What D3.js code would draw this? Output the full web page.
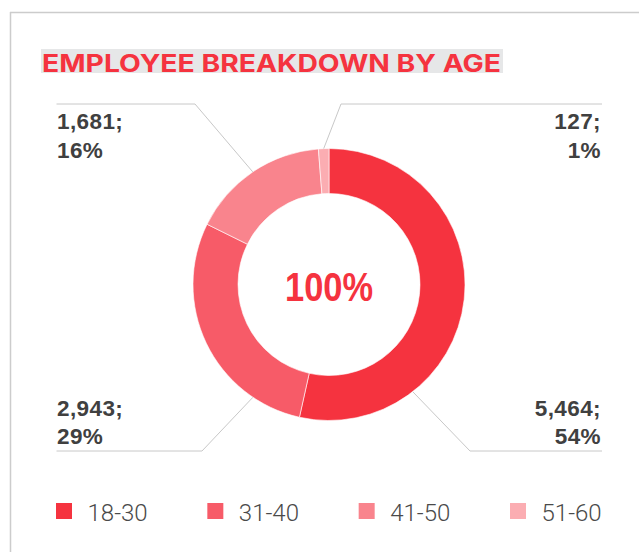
<!DOCTYPE html>
<html>
<head>
<meta charset="utf-8">
<script src="https://cdn.jsdelivr.net/npm/d3@7"></script>
<style>
  html, body { margin: 0; padding: 0; background: #fff; }
  svg { display: block; }
</style>
</head>
<body>
<svg id="chart"></svg>
<script>
const width = 639, height = 552;
const red = "#F5333F", text_color = "#404040", legend_text = "#4A4A4A", line_color = "#C8C8C8";

// data
const ageGroups = ["18-30", "31-40", "41-50", "51-60"];
const employees = [5464, 2943, 1681, 127];
const shares = ["54%", "29%", "16%", "1%"];
const sliceColors = ["#F5333F", "#F75B68", "#F9848D", "#FBADB2"];
const totalLabel = "100%";
const title = "EMPLOYEE BREAKDOWN BY AGE";

const svg = d3.select("#chart").attr("width", width).attr("height", height);

// frame
svg.append("line").attr("x1", 10).attr("x2", width).attr("y1", 12.5).attr("y2", 12.5)
  .attr("stroke", "#CCCCCC").attr("stroke-width", 1.5);
svg.append("line").attr("x1", 10.5).attr("x2", 10.5).attr("y1", 12).attr("y2", height)
  .attr("stroke", "#CCCCCC").attr("stroke-width", 1.5);

////////////////////////////////////
//             Title              //
////////////////////////////////////
svg.append("rect")
  .attr("x", 41).attr("y", 49).attr("width", 462).attr("height", 24)
  .attr("fill", "#E6E7E8");
svg.append("text")
  .attr("x", 42).attr("y", 72)
  .attr("font-family", "Inter, 'DejaVu Sans', sans-serif")
  .attr("font-weight", 700)
  .attr("font-size", 24)
  .attr("fill", red)
  .attr("textLength", 459)
  .attr("lengthAdjust", "spacingAndGlyphs")
  .text(title);

////////////////////////////////////
//             Donut              //
////////////////////////////////////
const cx = 329, cy = 284.5, outerR = 136, innerR = 91;
const g = svg.append("g").attr("transform", `translate(${cx},${cy})`);

const pie = d3.pie().sort(null).value(d => d)(employees);
const arc = d3.arc().innerRadius(innerR).outerRadius(outerR);

g.selectAll("path.slice")
  .data(pie)
  .enter()
  .append("path")
  .attr("class", "slice")
  .attr("d", arc)
  .attr("fill", (d, i) => sliceColors[i])
  .attr("stroke", "#fff")
  .attr("stroke-width", 0.6);

g.append("text")
  .attr("x", 0).attr("y", 16.5)
  .attr("text-anchor", "middle")
  .attr("font-family", "'Liberation Sans', Arial, sans-serif")
  .attr("font-weight", "bold")
  .attr("font-size", 40)
  .attr("fill", red)
  .attr("textLength", 88)
  .attr("lengthAdjust", "spacingAndGlyphs")
  .text(totalLabel);

////////////////////////////////////
//         Leader labels          //
////////////////////////////////////
// corner placement per slice: side, row, angle where the leader touches the ring, elbow x
const labelLayout = [
  { side: "right", row: "bottom", angle: 142, elbow: 470 },
  { side: "left", row: "bottom", angle: 214, elbow: 202 },
  { side: "left", row: "top", angle: null, elbow: 195 },
  { side: "right", row: "top", angle: null, elbow: 341 }
];
const rowLineY = { top: 104, bottom: 451 };
const rowBaseline = { top: [129, 158], bottom: [416, 444] };
const leftX = 56.5, rightX = 602;

pie.forEach((d, i) => {
  const lay = labelLayout[i];
  const a = lay.angle !== null ? lay.angle * Math.PI / 180 : (d.startAngle + d.endAngle) / 2;
  const ax = cx + outerR * Math.sin(a), ay = cy - outerR * Math.cos(a);
  const ly = rowLineY[lay.row];
  const endX = lay.side === "left" ? leftX : rightX;

  svg.append("polyline")
    .attr("points", `${ax},${ay} ${lay.elbow},${ly} ${endX},${ly}`)
    .attr("fill", "none")
    .attr("stroke", line_color)
    .attr("stroke-width", 1);

  const tx = lay.side === "left" ? 57 : 601;
  const anchor = lay.side === "left" ? "start" : "end";
  const lines = [d3.format(",")(employees[i]) + ";", shares[i]];
  lines.forEach((t, k) => {
    svg.append("text")
      .attr("x", tx).attr("y", rowBaseline[lay.row][k])
      .attr("text-anchor", anchor)
      .attr("font-family", "'Liberation Sans', Arial, sans-serif")
      .attr("font-weight", "bold")
      .attr("font-size", 22.5)
      .attr("letter-spacing", 0.4)
      .attr("fill", text_color)
      .text(t);
  });
});

////////////////////////////////////
//            Legend              //
////////////////////////////////////
const legendX = d3.scalePoint().domain(ageGroups).range([56, 510]);
const legend = svg.selectAll("g.legend")
  .data(ageGroups)
  .enter()
  .append("g")
  .attr("class", "legend")
  .attr("transform", d => `translate(${legendX(d)},503)`);

legend.append("rect")
  .attr("width", 16).attr("height", 16)
  .attr("fill", (d, i) => sliceColors[i]);

legend.append("text")
  .attr("x", 31.5).attr("y", 17.5)
  .attr("font-family", "Roboto, 'Open Sans', sans-serif")
  .attr("font-weight", 300)
  .attr("font-size", 24)
  .attr("fill", legend_text)
  .text(d => d);
</script>
</body>
</html>
